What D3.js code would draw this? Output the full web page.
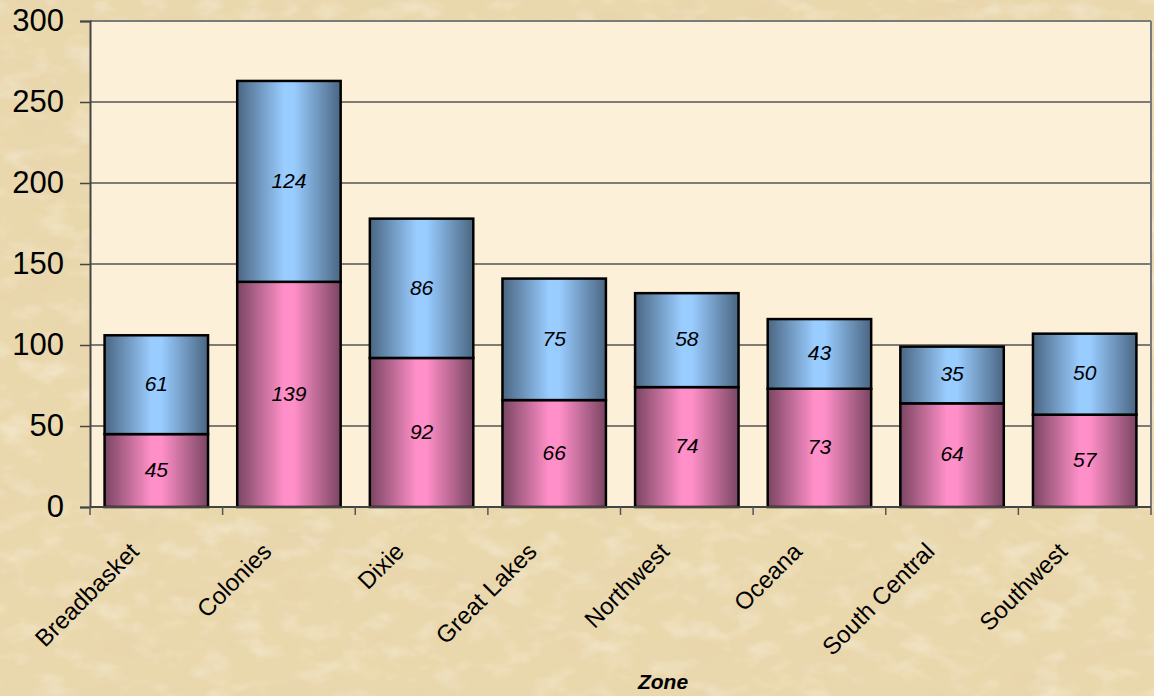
<!DOCTYPE html>
<html><head><meta charset="utf-8">
<script src="https://cdn.jsdelivr.net/npm/d3@7"></script>
<style>html,body{margin:0;padding:0;background:#ecdcb2;}svg{display:block;}</style>
</head><body>
<svg id="chart" width="1154" height="696"></svg>
<script>
const categories = ["Breadbasket","Colonies","Dixie","Great Lakes","Northwest","Oceana","South Central","Southwest"];
const bottomValues = [45,139,92,66,74,73,64,57];
const topValues = [61,124,86,75,58,43,35,50];
const yTicks = [0,50,100,150,200,250,300];
const xTitle = "Zone";

const W = 1154, H = 696;
const m = {left:90, right:1151, top:21, bottom:507};
const svg = d3.select("#chart");
const defs = svg.append("defs");

// parchment texture
const f = defs.append("filter").attr("id","paper").attr("x",0).attr("y",0).attr("width","100%").attr("height","100%");
f.append("feTurbulence").attr("type","fractalNoise").attr("baseFrequency","0.012 0.025").attr("numOctaves",4).attr("seed",7).attr("result","n");
f.append("feColorMatrix").attr("in","n").attr("type","matrix")
 .attr("values","0 0 0 0 0.80  0 0 0 0 0.66  0 0 0 0 0.42  1.5 0 0 0 -0.58");
const f2 = defs.append("filter").attr("id","paper2").attr("x",0).attr("y",0).attr("width","100%").attr("height","100%");
f2.append("feTurbulence").attr("type","fractalNoise").attr("baseFrequency","0.03 0.05").attr("numOctaves",3).attr("seed",21).attr("result","n");
f2.append("feColorMatrix").attr("in","n").attr("type","matrix")
 .attr("values","0 0 0 0 0.98  0 0 0 0 0.94  0 0 0 0 0.84  1.0 0 0 0 -0.5");

svg.append("rect").attr("width",W).attr("height",H).attr("fill","#ead8ad");
svg.append("rect").attr("width",W).attr("height",H).attr("filter","url(#paper)");
svg.append("rect").attr("width",W).attr("height",H).attr("filter","url(#paper2)");

// gradients
function grad(id, dark, light){
  const g = defs.append("linearGradient").attr("id",id).attr("x1","0%").attr("x2","100%").attr("y1","0%").attr("y2","0%");
  g.append("stop").attr("offset","0%").attr("stop-color",dark);
  g.append("stop").attr("offset","45%").attr("stop-color",light);
  g.append("stop").attr("offset","55%").attr("stop-color",light);
  g.append("stop").attr("offset","100%").attr("stop-color",dark);
}
grad("gBlue","#4a6682","#99ccff");
grad("gPink","#7a4562","#ff8fc8");

const x = d3.scaleBand().domain(categories).range([m.left,m.right]).paddingInner(0.22).paddingOuter(0.11);
const y = d3.scaleLinear().domain([0,300]).range([m.bottom,m.top]);

// plot area
svg.append("rect").attr("x",m.left).attr("y",m.top).attr("width",m.right-m.left).attr("height",m.bottom-m.top).attr("fill","#fcf0d8");

// gridlines
svg.append("g").selectAll("line").data(yTicks.filter(d=>d>0 && d<300)).join("line")
  .attr("x1",m.left).attr("x2",m.right).attr("y1",d=>y(d)).attr("y2",d=>y(d))
  .attr("stroke","#555").attr("stroke-width",1.5);
// top and right border
svg.append("line").attr("x1",m.left).attr("x2",m.right).attr("y1",m.top).attr("y2",m.top).attr("stroke","#7a7a7a").attr("stroke-width",2);
svg.append("line").attr("x1",m.right).attr("x2",m.right).attr("y1",m.top).attr("y2",m.bottom).attr("stroke","#7a7a7a").attr("stroke-width",2);

// bars
const data = categories.map((c,i)=>({c, b:bottomValues[i], t:topValues[i]}));
const bars = svg.append("g");
bars.selectAll("rect.b").data(data).join("rect").attr("class","b")
  .attr("x",d=>x(d.c)).attr("width",x.bandwidth())
  .attr("y",d=>y(d.b)).attr("height",d=>y(0)-y(d.b))
  .attr("fill","url(#gPink)").attr("stroke","#000").attr("stroke-width",2.5);
bars.selectAll("rect.t").data(data).join("rect").attr("class","t")
  .attr("x",d=>x(d.c)).attr("width",x.bandwidth())
  .attr("y",d=>y(d.b+d.t)).attr("height",d=>y(d.b)-y(d.b+d.t))
  .attr("fill","url(#gBlue)").attr("stroke","#000").attr("stroke-width",2.5);

// value labels
const lab = svg.append("g").attr("font-family","Liberation Sans, Arial, sans-serif").attr("font-size",21).attr("font-style","italic").attr("text-anchor","middle").attr("fill","#000");
lab.selectAll("text.b").data(data).join("text").attr("class","b")
  .attr("x",d=>x(d.c)+x.bandwidth()/2).attr("y",d=>y(d.b/2)).attr("dy","0.3em").text(d=>d.b);
lab.selectAll("text.t").data(data).join("text").attr("class","t")
  .attr("x",d=>x(d.c)+x.bandwidth()/2).attr("y",d=>y(d.b+d.t/2)).attr("dy","0.3em").text(d=>d.t);

// y axis
const ya = svg.append("g").attr("transform",`translate(${m.left},0)`)
  .call(d3.axisLeft(y).tickValues(yTicks).tickSize(10).tickPadding(16).tickFormat(d3.format("d")));
ya.select(".domain").attr("stroke","#444").attr("stroke-width",2);
ya.selectAll(".tick line").attr("stroke","#444").attr("stroke-width",1.5);
ya.selectAll("text").attr("font-family","Liberation Sans, Arial, sans-serif").attr("font-size",31).attr("fill","#000");

// x axis line + ticks at band boundaries
svg.append("line").attr("x1",m.left).attr("x2",m.right).attr("y1",m.bottom).attr("y2",m.bottom).attr("stroke","#444").attr("stroke-width",2);
const bounds = d3.range(categories.length+1).map(i=>m.left + i*(m.right-m.left)/categories.length);
svg.append("g").selectAll("line").data(bounds).join("line")
  .attr("x1",d=>d).attr("x2",d=>d).attr("y1",m.bottom).attr("y2",m.bottom+8)
  .attr("stroke","#555").attr("stroke-width",1.5);

// category labels
svg.append("g").selectAll("text").data(categories).join("text")
  .attr("transform",d=>`translate(${x(d)+x.bandwidth()/2-16},553) rotate(-45)`)
  .attr("text-anchor","end")
  .attr("font-family","Liberation Sans, Arial, sans-serif").attr("font-size",24).attr("fill","#000")
  .text(d=>d);

svg.append("text").attr("x",663).attr("y",689).attr("text-anchor","middle")
  .attr("font-family","Liberation Sans, Arial, sans-serif").attr("font-size",21).attr("font-weight","bold").attr("font-style","italic")
  .text(xTitle);
</script>
</body></html>
